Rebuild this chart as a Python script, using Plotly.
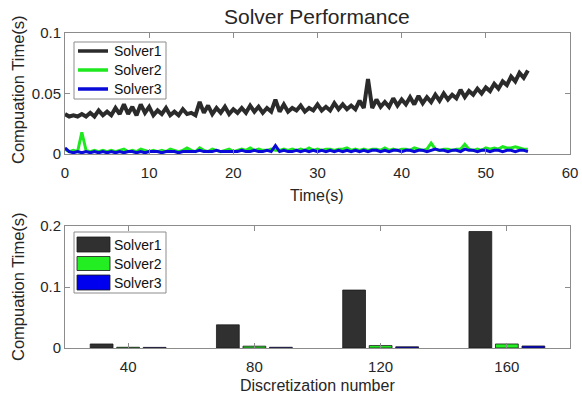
import plotly.graph_objects as go

# ---------------- data ----------------
t_step = 0.5
time_s = [i * t_step for i in range(111)]  # 0 .. 55 s

solver1_time = [
    0.033, 0.031, 0.032, 0.031, 0.033, 0.031, 0.034, 0.031, 0.036, 0.032, 0.035,
    0.032, 0.038, 0.033, 0.041, 0.033, 0.039, 0.032, 0.041, 0.034, 0.039,
    0.032, 0.036, 0.033, 0.038, 0.032, 0.035, 0.032, 0.037, 0.033, 0.034,
    0.032, 0.043, 0.034, 0.040, 0.033, 0.038, 0.034, 0.039, 0.033, 0.037,
    0.034, 0.038, 0.034, 0.040, 0.035, 0.039, 0.034, 0.038, 0.035, 0.045,
    0.035, 0.041, 0.035, 0.038, 0.036, 0.040, 0.035, 0.038, 0.036, 0.041,
    0.036, 0.039, 0.036, 0.042, 0.037, 0.041, 0.037, 0.040, 0.037, 0.044,
    0.038, 0.062, 0.038, 0.045, 0.039, 0.043, 0.039, 0.046, 0.040, 0.045,
    0.041, 0.047, 0.041, 0.048, 0.042, 0.047, 0.043, 0.049, 0.044, 0.050,
    0.045, 0.049, 0.046, 0.053, 0.047, 0.052, 0.049, 0.054, 0.050, 0.055,
    0.052, 0.058, 0.054, 0.060, 0.057, 0.064, 0.060, 0.067, 0.063, 0.069,
]
solver2_time = [
    0.004, 0.002, 0.003, 0.002, 0.018, 0.003, 0.002, 0.003, 0.002, 0.003, 0.002,
    0.003, 0.002, 0.003, 0.004, 0.002, 0.003, 0.002, 0.004, 0.003, 0.002,
    0.003, 0.002, 0.003, 0.002, 0.004, 0.003, 0.002, 0.003, 0.005, 0.003,
    0.002, 0.005, 0.003, 0.002, 0.004, 0.003, 0.002, 0.003, 0.004, 0.002,
    0.003, 0.004, 0.003, 0.005, 0.003, 0.004, 0.003, 0.003, 0.004, 0.003,
    0.003, 0.004, 0.003, 0.004, 0.003, 0.004, 0.003, 0.005, 0.003, 0.004,
    0.003, 0.004, 0.004, 0.003, 0.004, 0.004, 0.005, 0.003, 0.004, 0.003,
    0.004, 0.003, 0.004, 0.004, 0.003, 0.005, 0.003, 0.004, 0.003, 0.004,
    0.004, 0.003, 0.005, 0.004, 0.003, 0.004, 0.009, 0.004, 0.003, 0.004,
    0.004, 0.003, 0.004, 0.004, 0.008, 0.004, 0.003, 0.004, 0.003, 0.005,
    0.004, 0.005, 0.004, 0.006, 0.005, 0.005, 0.006, 0.005, 0.004, 0.004,
]
solver3_time = [
    0.005, 0.002, 0.001, 0.002, 0.001, 0.002, 0.001, 0.002, 0.001, 0.002, 0.001,
    0.002, 0.001, 0.002, 0.001, 0.002, 0.002, 0.001, 0.002, 0.001, 0.002,
    0.002, 0.002, 0.001, 0.002, 0.002, 0.002, 0.001, 0.002, 0.002, 0.002,
    0.002, 0.003, 0.002, 0.002, 0.002, 0.003, 0.002, 0.002, 0.002, 0.002,
    0.002, 0.003, 0.002, 0.002, 0.003, 0.002, 0.002, 0.003, 0.002, 0.007,
    0.002, 0.003, 0.002, 0.002, 0.003, 0.002, 0.003, 0.002, 0.003, 0.002,
    0.003, 0.002, 0.003, 0.002, 0.003, 0.002, 0.003, 0.002, 0.003, 0.002,
    0.003, 0.002, 0.003, 0.003, 0.002, 0.003, 0.002, 0.003, 0.003, 0.002,
    0.003, 0.003, 0.002, 0.003, 0.003, 0.002, 0.003, 0.004, 0.003, 0.003,
    0.002, 0.003, 0.003, 0.002, 0.004, 0.003, 0.003, 0.002, 0.003, 0.003,
    0.002, 0.003, 0.003, 0.002, 0.003, 0.003, 0.002, 0.003, 0.003, 0.002,
]

disc_numbers = ["40", "80", "120", "160"]
bar_solver1 = [0.0066, 0.038, 0.095, 0.191]
bar_solver2 = [0.0012, 0.003, 0.004, 0.0066]
bar_solver3 = [0.0010, 0.0012, 0.002, 0.0033]

top_xticks = [0, 10, 20, 30, 40, 50, 60]
top_yticks = [0, 0.05, 0.1]
top_yticktext = ["0", "0.05", "0.1"]
bot_yticks = [0, 0.1, 0.2]
bot_yticktext = ["0", "0.1", "0.2"]

names = ["Solver1", "Solver2", "Solver3"]
line_colors = ["#2b2b2b", "#1ee81e", "#0a0ad8"]
line_widths = [4, 3, 3]
bar_colors = ["#303030", "#22ee22", "#0000ee"]

# ---------------- figure ----------------
W, H = 582, 401
L, R, T, B = 65, 12, 33, 53
FONT = "Liberation Sans, Arial, sans-serif"
TXT = "#262626"
AX = "#8c8c8c"

def py(v):  # pixel y -> paper y
    return (H - B - v) / (H - T - B)

def px(v):  # pixel x -> paper x
    return (v - L) / (W - L - R)

fig = go.Figure()
for name, ys, c, w in zip(names, [solver1_time, solver2_time, solver3_time], line_colors, line_widths):
    fig.add_trace(go.Scatter(x=time_s, y=ys, name=name, mode="lines",
                             line=dict(color=c, width=w, shape="linear"),
                             xaxis="x", yaxis="y", showlegend=False))
for name, ys, c in zip(names, [bar_solver1, bar_solver2, bar_solver3], bar_colors):
    fig.add_trace(go.Bar(x=disc_numbers, y=ys, name=name,
                         marker=dict(color=c, line=dict(color="#1a1a1a", width=0.8)),
                         xaxis="x2", yaxis="y2", showlegend=False))

axis_common = dict(showline=True, linecolor=AX, linewidth=1, mirror="ticks",
                   ticks="inside", ticklen=5, tickcolor=AX, showgrid=False,
                   zeroline=False, automargin=False,
                   tickfont=dict(family=FONT, size=15, color=TXT))

fig.update_layout(
    width=W, height=H,
    margin=dict(l=L, r=R, t=T, b=B),
    plot_bgcolor="white", paper_bgcolor="white",
    font=dict(family=FONT, color=TXT),
    barmode="group", bargap=0.37, bargroupgap=0.14,
    showlegend=False,
    xaxis=dict(domain=[0, 1], anchor="y", range=[0, 60], tickvals=top_xticks,
               ticklabelstandoff=5, **axis_common),
    yaxis=dict(domain=[py(154), py(33)], anchor="x", range=[0, 0.1],
               tickvals=top_yticks, ticktext=top_yticktext, **axis_common),
    xaxis2=dict(domain=[0, 1], anchor="y2", type="category", range=[-0.5, 3.5],
                ticklabelstandoff=5, **axis_common),
    yaxis2=dict(domain=[py(348), py(226)], anchor="x2", range=[0, 0.2],
                tickvals=bot_yticks, ticktext=bot_yticktext, **axis_common),
)

# ---- legends (box, sample marks, labels) ----
shapes = []
annos = []
shapes.append(dict(type="rect", xref="paper", yref="paper", x0=px(74), x1=px(166),
                   y0=py(99), y1=py(42), line=dict(color=AX, width=1), fillcolor="white",
                   layer="above"))
for name, c, yc in zip(names, line_colors, [51, 70, 89]):
    shapes.append(dict(type="line", xref="paper", yref="paper", x0=px(78), x1=px(108),
                       y0=py(yc), y1=py(yc), line=dict(color=c, width=3.5), layer="above"))
    annos.append(dict(text=name, x=px(112), y=py(yc), size=14, xanchor="left"))
shapes.append(dict(type="rect", xref="paper", yref="paper", x0=px(74), x1=px(166),
                   y0=py(293), y1=py(232), line=dict(color=AX, width=1), fillcolor="white",
                   layer="above"))
for name, c, (y0, y1) in zip(names, bar_colors, [(237, 252), (256.5, 270.5), (275, 290)]):
    shapes.append(dict(type="rect", xref="paper", yref="paper", x0=px(77), x1=px(110),
                       y0=py(y1), y1=py(y0), fillcolor=c,
                       line=dict(color="#1a1a1a", width=0.8), layer="above"))
    annos.append(dict(text=name, x=px(112), y=py((y0 + y1) / 2), size=14, xanchor="left"))

annos += [
    dict(text="Solver Performance", x=px(317), y=py(17), size=21),
    dict(text="Time(s)", x=px(317), y=py(196), size=16),
    dict(text="Discretization number", x=px(317), y=py(385), size=16),
    dict(text="Compuation Time(s)", x=px(18), y=py(90), size=16.5, angle=-90),
    dict(text="Compuation Time(s)", x=px(18), y=py(287), size=16.5, angle=-90),
]
fig.update_layout(shapes=shapes)
for a in annos:
    fig.add_annotation(text=a["text"], x=a["x"], y=a["y"], xref="paper", yref="paper",
                       xanchor=a.get("xanchor", "center"), yanchor="middle", showarrow=False,
                       textangle=a.get("angle", 0),
                       font=dict(family=FONT, size=a["size"], color=TXT if a["size"] != 14 else "#111"))

fig.write_html("out.html", config={"displayModeBar": False},
               post_script="document.body.style.margin='0';document.body.style.padding='0';")
